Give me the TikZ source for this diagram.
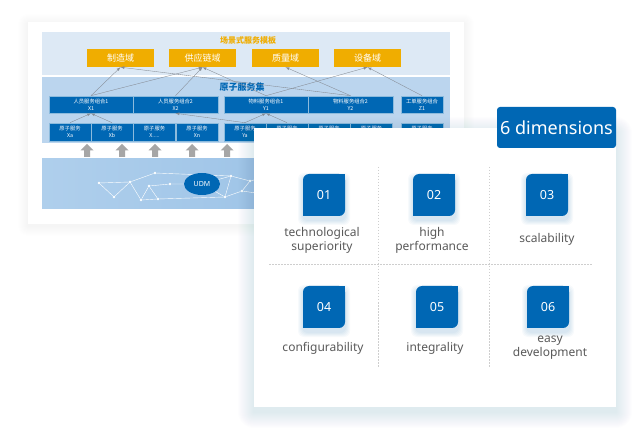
\documentclass[tikz,border=0pt]{standalone}
\usepackage{fontspec}
\setmainfont{Noto Sans}
\newfontfamily\cjk{Noto Sans CJK SC}
\usetikzlibrary{shapes.geometric}
\definecolor{dimblue}{HTML}{0067B4}
\definecolor{domorange}{HTML}{F0AD00}
\definecolor{bandtop}{HTML}{DDE9F5}
\definecolor{bandmid}{HTML}{BBD5EE}
\definecolor{udmleft}{HTML}{AFCFEC}
\definecolor{udmright}{HTML}{92BCE4}
\definecolor{arrowgray}{HTML}{A6A6A6}
\definecolor{linkgray}{HTML}{858B93}
\definecolor{labelgray}{HTML}{5A5A5A}
\definecolor{shadowtint}{HTML}{5A78A8}
\tikzstyle{domainbox}=[fill=domorange,minimum width=67pt,minimum height=18pt,inner sep=0pt,text=white,font=\cjk\fontsize{9}{10}\selectfont]
\tikzstyle{combo}=[fill=dimblue,draw=white!55!dimblue,line width=0.6pt,minimum height=17pt,inner sep=0pt,text=white,align=center,font=\cjk\fontsize{5.3}{6.8}\selectfont]
\tikzstyle{atom}=[combo,minimum width=42pt,minimum height=18pt]
\tikzstyle{link}=[->,>=latex,draw=linkgray,line width=0.35pt]
\tikzstyle{netdot}=[circle,fill=white,minimum size=2.6pt,inner sep=0pt]
\tikzstyle{numbox}=[minimum size=42pt,inner sep=0pt,text=white,font=\fontsize{12.5}{14}\selectfont,
  path picture={
    \fill[dimblue,rounded corners=6pt] (path picture bounding box.south west) rectangle (path picture bounding box.north east);
    \fill[dimblue] (path picture bounding box.north east) rectangle ++(-10,10);
    \fill[dimblue] (path picture bounding box.south west) rectangle ++(10,-10);
  }]
\tikzstyle{dimlabel}=[text=labelgray,align=center,inner sep=0pt,font=\fontsize{12}{14}\selectfont]

\begin{document}
\begin{tikzpicture}[x=1pt,y=-1pt]
\useasboundingbox (0,0) rectangle (642,443);
\fill[white] (0,0) rectangle (642,443);

% left panel
\foreach \s in {1,...,10}
  \fill[shadowtint,opacity=0.005,rounded corners={\s pt}] ({28-\s},{22-\s+2}) rectangle ({464+\s},{224+\s+2});
\fill[white] (28,22) rectangle (464,224);
\fill[bandtop] (42,32) rectangle (450,75);
\fill[bandmid] (42,77) rectangle (450,143);
\shade[left color=udmleft,right color=udmright] (42,159) rectangle (450,209);

\node[text=domorange,font=\cjk\bfseries\fontsize{8}{9}\selectfont] (tpl) at (248,40) {场景式服务模板};
\node[domainbox] (mfg) at (120.5,58) {制造域};
\node[domainbox] (sup) at (202.5,58) {供应链域};
\node[domainbox] (qual) at (285.5,58) {质量域};
\node[domainbox] (equip) at (367.5,58) {设备域};

\node[text=dimblue,font=\cjk\bfseries\fontsize{9}{10}\selectfont] (atomset) at (242,87) {原子服务集};
\node[combo,minimum width=84pt] (x1) at (91,104.5) {人员服务组合1\\X1};
\node[combo,minimum width=85pt] (x2) at (175.5,104.5) {人员服务组合2\\X2};
\node[combo,minimum width=84pt] (y1) at (266,104.5) {物料服务组合1\\Y1};
\node[combo,minimum width=85pt] (y2) at (350.5,104.5) {物料服务组合2\\Y2};
\node[combo,minimum width=42pt] (z1) at (422,104.5) {工单服务组合\\Z1};

\node[atom] (xa) at (70,132) {原子服务\\Xa};
\node[atom] (xb) at (112,132) {原子服务\\Xb};
\node[atom] (xdots) at (154.5,132) {原子服务\\X.....};
\node[atom] (xn) at (197,132) {原子服务\\Xn};
\node[atom] (ya) at (245,132) {原子服务\\Ya};
\node[atom] (yb) at (287,132) {原子服务\\\phantom{Y}};
\node[atom] (yc) at (329,132) {原子服务\\\phantom{Y}};
\node[atom] (yd) at (371.5,132) {原子服务\\\phantom{Y}};
\node[atom] (za) at (422,132) {原子服务\\\phantom{Y}};

\draw[link] (x1.north) -- (mfg.south);
\draw[link] (x1.north) -- (sup.south);
\draw[link] (x2.north) -- (sup.south);
\draw[link] (y2.north) -- (mfg.south);
\draw[link] (y1.north) -- (sup.south);
\draw[link] (y2.north) -- (qual.south);
\draw[link] (y1.north) -- (equip.south);
\draw[link] (z1.north) -- (equip.south);
\draw[link] (xa.north) -- (x1.south);
\draw[link] (xb.north) -- (x1.south);
\draw[link] (ya.north) -- (x2.south);
\draw[link] (ya.north) -- (y1.south);
\draw[link] (yb.north) -- (y1.south);

% up arrows
\foreach \x in {87,122,155,192,227,262}
  \fill[arrowgray] ({\x-3},157) -- ({\x-3},150.5) -- ({\x-6.5},150.5) -- (\x,144) -- ({\x+6.5},150.5) -- ({\x+3},150.5) -- ({\x+3},157) -- cycle;

% UDM network
\node[netdot] (n1) at (99,183) {};
\node[netdot] (n2) at (114,197) {};
\node[netdot] (n3) at (130,182) {};
\node[netdot] (n4) at (155,173) {};
\node[netdot] (n5) at (149,186) {};
\node[netdot] (n6) at (141,200) {};
\node[netdot] (n7) at (158,199) {};
\node[netdot] (n8) at (170,184) {};
\node[netdot] (n9) at (231,176) {};
\node[netdot] (n10) at (250,181) {};
\node[netdot] (n11) at (242,191) {};
\node[netdot] (n12) at (225,197) {};
\draw[white,line width=0.4pt] (n1) -- (n2) -- (n3) -- (n4) -- (n9) -- (n10) -- (n11) -- (n12) -- (n9);
\draw[white,line width=0.4pt] (n3) -- (n6) -- (n5) -- (n7) -- (n6);
\draw[white,line width=0.4pt] (n1) -- (n3) (n5) -- (n8) (n7) -- (n12) (n10) -- (270,176) (n11) -- (270,195);
\node[ellipse,fill=dimblue,minimum width=36pt,minimum height=22pt,inner sep=0pt,text=white,font=\bfseries\fontsize{7}{8}\selectfont] (udm) at (202,184) {UDM};
\draw[white,line width=0.4pt] (n8) -- (udm) -- (n9) (udm) -- (n12);

% dimension card
\foreach \s in {1,...,16}
  \fill[shadowtint,opacity=0.006,rounded corners={\s pt}] ({254-\s},{128-\s+5}) rectangle ({616+\s},{407+\s+5});
\fill[white] (254,128) rectangle (616,407);
\node[fill=dimblue,rounded corners=3pt,minimum width=119pt,minimum height=41pt,inner sep=0pt,text=white,font=\fontsize{18}{20}\selectfont] (title) at (556.5,127.5) {6 dimensions};

\draw[labelgray!30,line width=0.6pt,dash pattern=on 1.5pt off 1.5pt] (378,167) -- (378,368);
\draw[labelgray!30,line width=0.6pt,dash pattern=on 1.5pt off 1.5pt] (489,167) -- (489,368);
\draw[labelgray!30,line width=0.6pt,dash pattern=on 1.5pt off 1.5pt] (269,264) -- (592,264);

% glow under the number boxes
\foreach \p in {(324,195),(434,195),(547,195),(324,307),(437,307),(548,307)}
  \foreach \s in {1,...,5}
    \fill[dimblue,opacity=0.03,rounded corners=6pt] \p ++({-21-\s},{-21-\s+4}) rectangle ++({42+2*\s},{42+2*\s});

\node[numbox] (d1) at (324,195) {01};
\node[numbox] (d2) at (434,195) {02};
\node[numbox] (d3) at (547,195) {03};
\node[numbox] (d4) at (324,307) {04};
\node[numbox] (d5) at (437,307) {05};
\node[numbox] (d6) at (548,307) {06};

\node[dimlabel] (t1) at (322,240) {technological\\superiority};
\node[dimlabel] (t2) at (432,240) {high\\performance};
\node[dimlabel] (t3) at (547,239) {scalability};
\node[dimlabel] (t4) at (323,348) {configurability};
\node[dimlabel] (t5) at (435,348) {integrality};
\node[dimlabel] (t6) at (550,348) {easy\\development};
\end{tikzpicture}
\end{document}
